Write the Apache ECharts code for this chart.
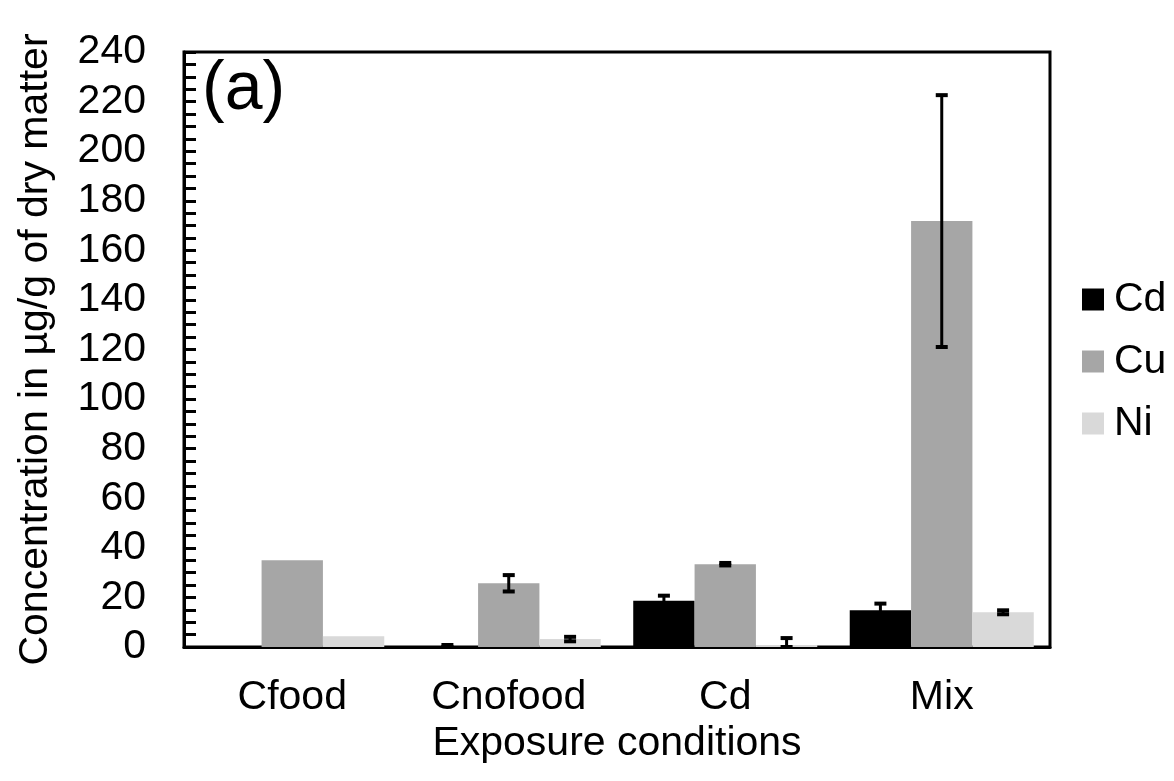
<!DOCTYPE html>
<html>
<head>
<meta charset="utf-8">
<script src="https://cdn.jsdelivr.net/npm/echarts@6/dist/echarts.min.js"></script>
<style>
html,body{margin:0;padding:0;background:#fff;}
#chart{width:1174px;height:781px;}
</style>
</head>
<body>
<div id="chart"></div>
<script>
const categories = ['Cfood', 'Cnofood', 'Cd', 'Mix'];
const seriesNames = ['Cd', 'Cu', 'Ni'];
const cdValues = [0, 0.2, 18.7, 14.8];
const cdErrors = [0, 0.6, 2.0, 2.7];
const cuValues = [35, 25.7, 33.4, 171.8];
const cuErrors = [0, 3.3, 0.5, 50.8];
const niValues = [4.3, 3.2, 0.8, 14.0];
const niErrors = [0, 0.9, 2.8, 0.8];
const seriesColors = ['#000000', '#a6a6a6', '#d9d9d9'];
const yMin = 0, yMax = 240, yInterval = 20;

const FONT = 'Liberation Sans, Arial, sans-serif';
const CAT_GAP = 0.15;

const values = [cdValues, cuValues, niValues];
const errors = [cdErrors, cuErrors, niErrors];

const errData = [];
for (let s = 0; s < 3; s++) {
  for (let c = 0; c < categories.length; c++) {
    if (errors[s][c] > 0) errData.push([c, values[s][c], errors[s][c], s]);
  }
}

const chart = echarts.init(document.getElementById('chart'), null, {renderer: 'canvas'});

const barSeries = seriesNames.map((n, i) => ({
  name: n,
  type: 'bar',
  data: values[i],
  barGap: '0%',
  barCategoryGap: (CAT_GAP * 100) + '%',
  itemStyle: {color: seriesColors[i]},
  emphasis: {disabled: true}
}));

const errSeries = {
  type: 'custom',
  data: errData,
  z: 10,
  silent: true,
  renderItem: function (params, api) {
    const c = api.value(0), v = api.value(1), e = api.value(2), s = api.value(3);
    const band = api.size([1, 0])[0];
    const barW = band * (1 - CAT_GAP) / 3;
    const base = api.coord([c, v]);
    const x = base[0] + (s - 1) * barW;
    const yt = api.coord([c, v + e])[1];
    const yb = api.coord([c, Math.max(0, v - e)])[1];
    const cap = 6;
    return {
      type: 'group',
      children: [
        {type: 'line', shape: {x1: x, y1: yt, x2: x, y2: yb}, style: {stroke: '#000', lineWidth: 3}},
        {type: 'line', shape: {x1: x - cap, y1: yt, x2: x + cap, y2: yt}, style: {stroke: '#000', lineWidth: 4}},
        {type: 'line', shape: {x1: x - cap, y1: yb, x2: x + cap, y2: yb}, style: {stroke: '#000', lineWidth: 4}}
      ]
    };
  }
};

const option = {
  animation: false,
  backgroundColor: '#ffffff',
  textStyle: {fontFamily: FONT},
  grid: {
    left: 184, right: 124, top: 52, bottom: 134,
    show: true, borderColor: '#000', borderWidth: 3, backgroundColor: 'transparent'
  },
  legend: {
    data: seriesNames,
    orient: 'vertical',
    left: 1082,
    top: 279,
    padding: 0,
    itemWidth: 22,
    itemHeight: 22,
    itemGap: 21,
    icon: 'rect',
    textStyle: {fontSize: 41, lineHeight: 40, color: '#000', fontFamily: FONT, padding: [0, 0, 0, 5]},
    selectedMode: false
  },
  xAxis: {
    type: 'category',
    data: categories,
    name: 'Exposure conditions',
    nameLocation: 'middle',
    nameGap: 75,
    nameTextStyle: {fontSize: 41, color: '#000', fontFamily: FONT},
    axisLine: {lineStyle: {color: '#000', width: 3}},
    axisTick: {show: false},
    axisLabel: {fontSize: 41, color: '#000', margin: 30, fontFamily: FONT}
  },
  yAxis: {
    type: 'value',
    min: yMin, max: yMax, interval: yInterval,
    name: 'Concentration in µg/g of dry matter',
    nameLocation: 'middle',
    nameGap: 128,
    nameRotate: 90,
    nameTextStyle: {fontSize: 41, color: '#000', fontFamily: FONT},
    axisLine: {show: true, lineStyle: {color: '#000', width: 3}},
    axisTick: {show: true, inside: true, length: 12, lineStyle: {color: '#000', width: 3}},
    minorTick: {show: true, splitNumber: 4, length: 12, lineStyle: {color: '#000', width: 3}},
    splitLine: {show: false},
    axisLabel: {fontSize: 41, color: '#000', margin: 38, fontFamily: FONT}
  },
  graphic: [{
    type: 'text',
    left: 202,
    top: 56,
    style: {text: '(a)', fontSize: 68, fontFamily: FONT, fill: '#000'}
  }],
  series: barSeries.concat([errSeries])
};

chart.setOption(option);
</script>
</body>
</html>
